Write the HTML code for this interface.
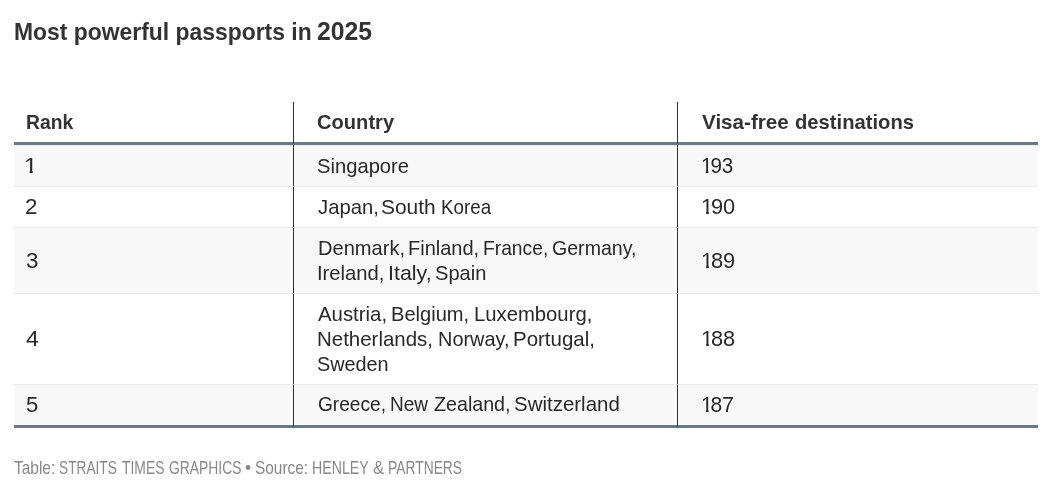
<!DOCTYPE html>
<html lang="en"><head><meta charset="utf-8"><title>Most powerful passports in 2025</title>
<style>
html,body{margin:0;padding:0;background:#fff;}
body{width:1055px;height:496px;position:relative;overflow:hidden;display:flow-root;font-family:"Liberation Sans", sans-serif;color:#333;}
.l{position:absolute;left:0;top:0;white-space:nowrap;line-height:1;}
.t{position:absolute;top:0;white-space:nowrap;line-height:1;transform-origin:0 0;}
table{margin:102px 0 0 14px;width:1024px;table-layout:fixed;border-collapse:separate;border-spacing:0;}
th,td{padding:0;border:0 solid #ebebeb;border-bottom-width:1px;text-align:left;font-weight:normal;}
th{height:40px;border-bottom:3px solid #6d7884;}
th+th,td+td{border-left:1px solid #333;}
tbody tr:nth-child(odd) td{background:#f8f8f8;}
tbody tr:first-child td{box-shadow:inset 0 1px 0 #ecedee;}
tbody tr:last-child td{border-bottom:3px solid #6d7884;box-shadow:inset 0 -1px 0 #fff;}
h1,p{margin:0;font:inherit;}
.o{display:inline-block;margin-right:-.1em;clip-path:polygon(0 0,100% 0,100% 14.8px,7.7px 14.8px,7.7px 100%,5px 100%,5px 14.8px,0 14.8px);}
</style></head><body>
<h1><span class="l" style="top:20px;font-size:24.6px;font-weight:bold"><span class="t" style="left:13.87px;transform:scaleX(0.9308)">Most powerful passports in</span></span><span class="l" style="top:19px;font-size:25.6px;font-weight:bold"><span class="t" style="left:317.43px;transform:scaleX(0.9656)">2025</span></span></h1>
<table><colgroup><col style="width:279px"><col style="width:384px"><col style="width:361px"></colgroup>
<thead><tr><th><span class="l" style="top:112px;font-size:20.4px;font-weight:bold"><span class="t" style="left:25.72px;transform:scaleX(0.9464)">Rank</span></span></th><th><span class="l" style="top:112px;font-size:20.4px;font-weight:bold"><span class="t" style="left:317.26px;transform:scaleX(0.9864)">Country</span></span></th><th><span class="l" style="top:112px;font-size:20.4px;font-weight:bold"><span class="t" style="left:702.05px;transform:scaleX(1.0112)">Visa-free</span> <span class="t" style="left:794.86px;transform:scaleX(0.9907)">destinations</span></span></th></tr></thead>
<tbody>
<tr style="height:42px"><td><span class="l" style="top:156px;font-size:21.4px;color:#282828"><span class="t" style="left:24.14px;transform:scaleX(1.1304)"><span class="o">1</span></span></span></td><td><span class="l" style="top:156px;font-size:20.4px;color:#282828"><span class="t" style="left:316.91px;transform:scaleX(0.9901)">Singapore</span></span></td><td><span class="l" style="top:156px;font-size:21.4px;color:#282828"><span class="t" style="left:700.87px;transform:scaleX(0.9626)"><span class="o">1</span>93</span></span></td></tr>
<tr style="height:41px"><td><span class="l" style="top:197px;font-size:21.4px;color:#282828"><span class="t" style="left:25.35px;transform:scaleX(1.0462)">2</span></span></td><td><span class="l" style="top:197px;font-size:20.4px;color:#282828"><span class="t" style="left:318.05px;transform:scaleX(0.9941)">Japan,</span> <span class="t" style="left:381.17px;transform:scaleX(1.0255)">South</span> <span class="t" style="left:441.49px;transform:scaleX(0.9213)">Korea</span></span></td><td><span class="l" style="top:197px;font-size:21.4px;color:#282828"><span class="t" style="left:700.76px;transform:scaleX(1.0179)"><span class="o">1</span>90</span></span></td></tr>
<tr style="height:66px"><td><span class="l" style="top:251px;font-size:21.4px;color:#282828"><span class="t" style="left:25.92px;transform:scaleX(1.0439)">3</span></span></td><td><span class="l" style="top:238px;font-size:20.4px;color:#282828"><span class="t" style="left:317.53px;transform:scaleX(0.9847)">Denmark,</span> <span class="t" style="left:407.78px;transform:scaleX(0.9812)">Finland,</span> <span class="t" style="left:482.95px;transform:scaleX(0.9435)">France,</span> <span class="t" style="left:552.09px;transform:scaleX(0.9601)">Germany,</span></span><span class="l" style="top:263px;font-size:20.4px;color:#282828"><span class="t" style="left:317.22px;transform:scaleX(0.9899)">Ireland,</span> <span class="t" style="left:388.40px;transform:scaleX(1.0490)">Italy,</span> <span class="t" style="left:435.22px;transform:scaleX(0.9849)">Spain</span></span></td><td><span class="l" style="top:251px;font-size:21.4px;color:#282828"><span class="t" style="left:700.76px;transform:scaleX(1.0197)"><span class="o">1</span>89</span></span></td></tr>
<tr style="height:91px"><td><span class="l" style="top:329px;font-size:21.4px;color:#282828"><span class="t" style="left:25.86px;transform:scaleX(1.0791)">4</span></span></td><td><span class="l" style="top:304px;font-size:20.4px;color:#282828"><span class="t" style="left:318.10px;transform:scaleX(0.9993)">Austria,</span> <span class="t" style="left:391.18px;transform:scaleX(0.9848)">Belgium,</span> <span class="t" style="left:473.56px;transform:scaleX(0.9939)">Luxembourg,</span></span><span class="l" style="top:329px;font-size:20.4px;color:#282828"><span class="t" style="left:317.49px;transform:scaleX(1.0031)">Netherlands,</span> <span class="t" style="left:437.59px;transform:scaleX(0.9763)">Norway,</span> <span class="t" style="left:512.74px;transform:scaleX(1.0038)">Portugal,</span></span><span class="l" style="top:354px;font-size:20.4px;color:#282828"><span class="t" style="left:317.23px;transform:scaleX(0.9720)">Sweden</span></span></td><td><span class="l" style="top:329px;font-size:21.4px;color:#282828"><span class="t" style="left:700.76px;transform:scaleX(1.0179)"><span class="o">1</span>88</span></span></td></tr>
<tr style="height:43px"><td><span class="l" style="top:395px;font-size:21.4px;color:#282828"><span class="t" style="left:25.67px;transform:scaleX(1.0300)">5</span></span></td><td><span class="l" style="top:394px;font-size:20.4px;color:#282828"><span class="t" style="left:317.66px;transform:scaleX(0.9376)">Greece,</span> <span class="t" style="left:389.57px;transform:scaleX(0.9333)">New</span> <span class="t" style="left:434.48px;transform:scaleX(0.9642)">Zealand,</span> <span class="t" style="left:514.40px;transform:scaleX(1.0039)">Switzerland</span></span></td><td><span class="l" style="top:395px;font-size:21.4px;color:#282828"><span class="t" style="left:700.83px;transform:scaleX(0.9836)"><span class="o">1</span>87</span></span></td></tr>
</tbody></table>
<p><span class="l" style="top:459px;font-size:18.6px;color:#888"><span class="t" style="left:14.13px;transform:scaleX(0.8305)">Table:</span> <span class="t" style="left:58.96px;transform:scaleX(0.7362)">STRAITS</span> <span class="t" style="left:122.13px;transform:scaleX(0.7459)">TIMES</span> <span class="t" style="left:168.65px;transform:scaleX(0.7454)">GRAPHICS</span> <span class="t" style="left:245.30px;transform:scaleX(0.9400)">•</span> <span class="t" style="left:254.97px;transform:scaleX(0.8293)">Source:</span> <span class="t" style="left:311.76px;transform:scaleX(0.7612)">HENLEY</span> <span class="t" style="left:373.32px;transform:scaleX(0.9067)">&amp;</span> <span class="t" style="left:388.48px;transform:scaleX(0.7445)">PARTNERS</span></span></p>
</body></html>
